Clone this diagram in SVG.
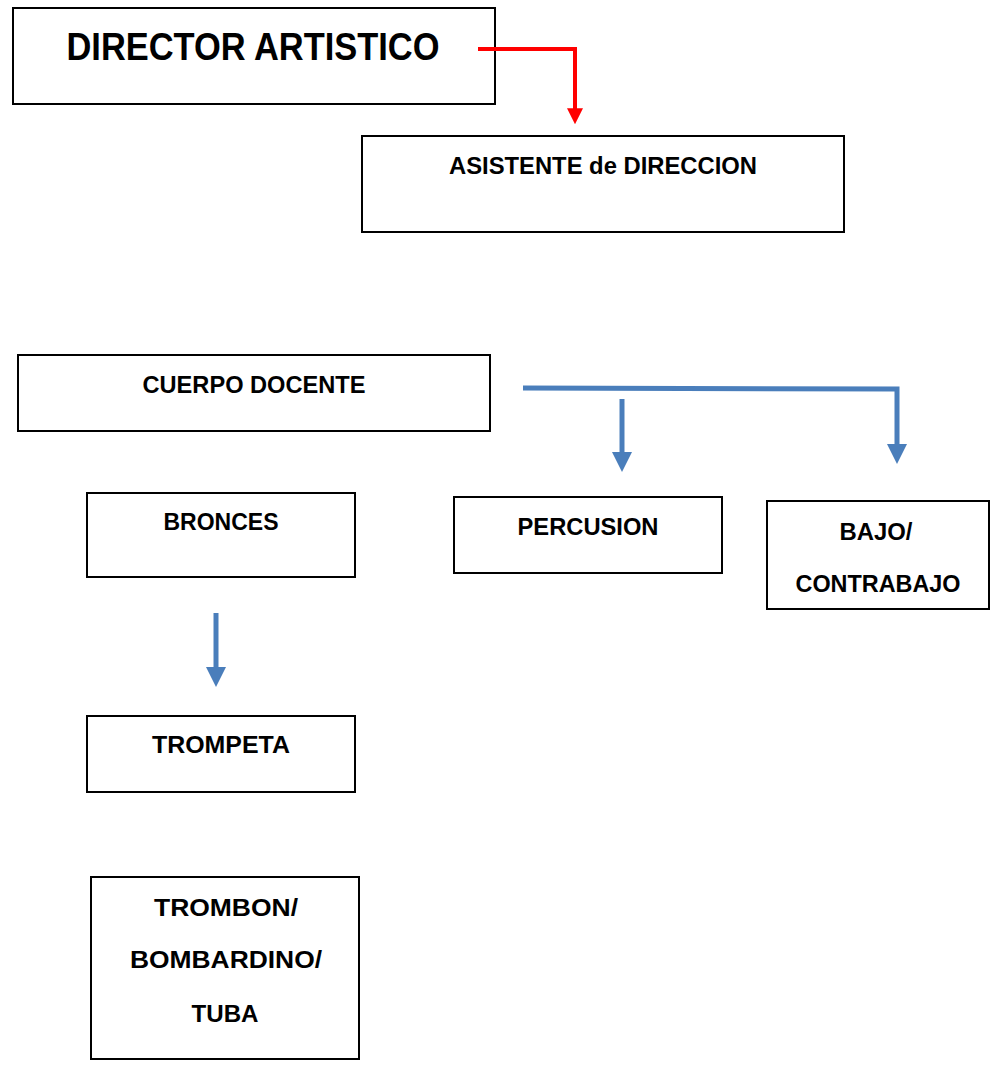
<svg xmlns="http://www.w3.org/2000/svg" width="1003" height="1080" viewBox="0 0 1003 1080">
<style>
.box{fill:#fff;stroke:#000;stroke-width:2}
.t{font-family:"Liberation Sans",Arial,sans-serif;font-weight:bold;font-size:24px;fill:#000;text-anchor:middle}
.big{font-size:38px}
.blue{fill:none;stroke:#4a7ebb;stroke-width:5}
.red{fill:none;stroke:#f00;stroke-width:4}
</style>
<defs>
<marker id="ab" markerWidth="4" markerHeight="4" refX="1.2" refY="2" orient="auto" markerUnits="strokeWidth" viewBox="0 0 4 4"><path d="M0,0 L4,2 L0,4 z" fill="#4a7ebb"/></marker>
<marker id="ar" markerWidth="4" markerHeight="4" refX="1.2" refY="2" orient="auto" markerUnits="strokeWidth" viewBox="0 0 4 4"><path d="M0,0 L4,2 L0,4 z" fill="#f00"/></marker>
</defs>
<g id="director"><rect class="box" x="13" y="8" width="482" height="96"/><text class="t big" x="253" y="60" textLength="373" lengthAdjust="spacingAndGlyphs">DIRECTOR ARTISTICO</text></g>
<g id="asistente"><rect class="box" x="362" y="136" width="482" height="96"/><text class="t" x="603" y="174" textLength="308" lengthAdjust="spacingAndGlyphs">ASISTENTE de DIRECCION</text></g>
<g id="cuerpo"><rect class="box" x="18" y="355" width="472" height="76"/><text class="t" x="254" y="393" textLength="223" lengthAdjust="spacingAndGlyphs">CUERPO DOCENTE</text></g>
<g id="bronces"><rect class="box" x="87" y="493" width="268" height="84"/><text class="t" x="221" y="530" textLength="115" lengthAdjust="spacingAndGlyphs">BRONCES</text></g>
<g id="percusion"><rect class="box" x="454" y="497" width="268" height="76"/><text class="t" x="588" y="535" textLength="141" lengthAdjust="spacingAndGlyphs">PERCUSION</text></g>
<g id="bajo"><rect class="box" x="767" y="501" width="222" height="108"/><text class="t" x="876" y="540" textLength="73" lengthAdjust="spacingAndGlyphs">BAJO/</text><text class="t" x="878" y="592" textLength="165" lengthAdjust="spacingAndGlyphs">CONTRABAJO</text></g>
<g id="trompeta"><rect class="box" x="87" y="716" width="268" height="76"/><text class="t" x="221" y="753" textLength="138" lengthAdjust="spacingAndGlyphs">TROMPETA</text></g>
<g id="trombon"><rect class="box" x="91" y="877" width="268" height="182"/><text class="t" x="226" y="916" textLength="144" lengthAdjust="spacingAndGlyphs">TROMBON/</text><text class="t" x="226" y="968" textLength="192" lengthAdjust="spacingAndGlyphs">BOMBARDINO/</text><text class="t" x="225" y="1022" textLength="67" lengthAdjust="spacingAndGlyphs">TUBA</text></g>
<g id="connectors">
<path class="red" d="M478,49 H575 V113" marker-end="url(#ar)"/>
<path class="blue" d="M523,388 L897,389 V450" marker-end="url(#ab)"/>
<path class="blue" d="M622,399 V458" marker-end="url(#ab)"/>
<path class="blue" d="M216,613 V673" marker-end="url(#ab)"/>
</g>
</svg>
